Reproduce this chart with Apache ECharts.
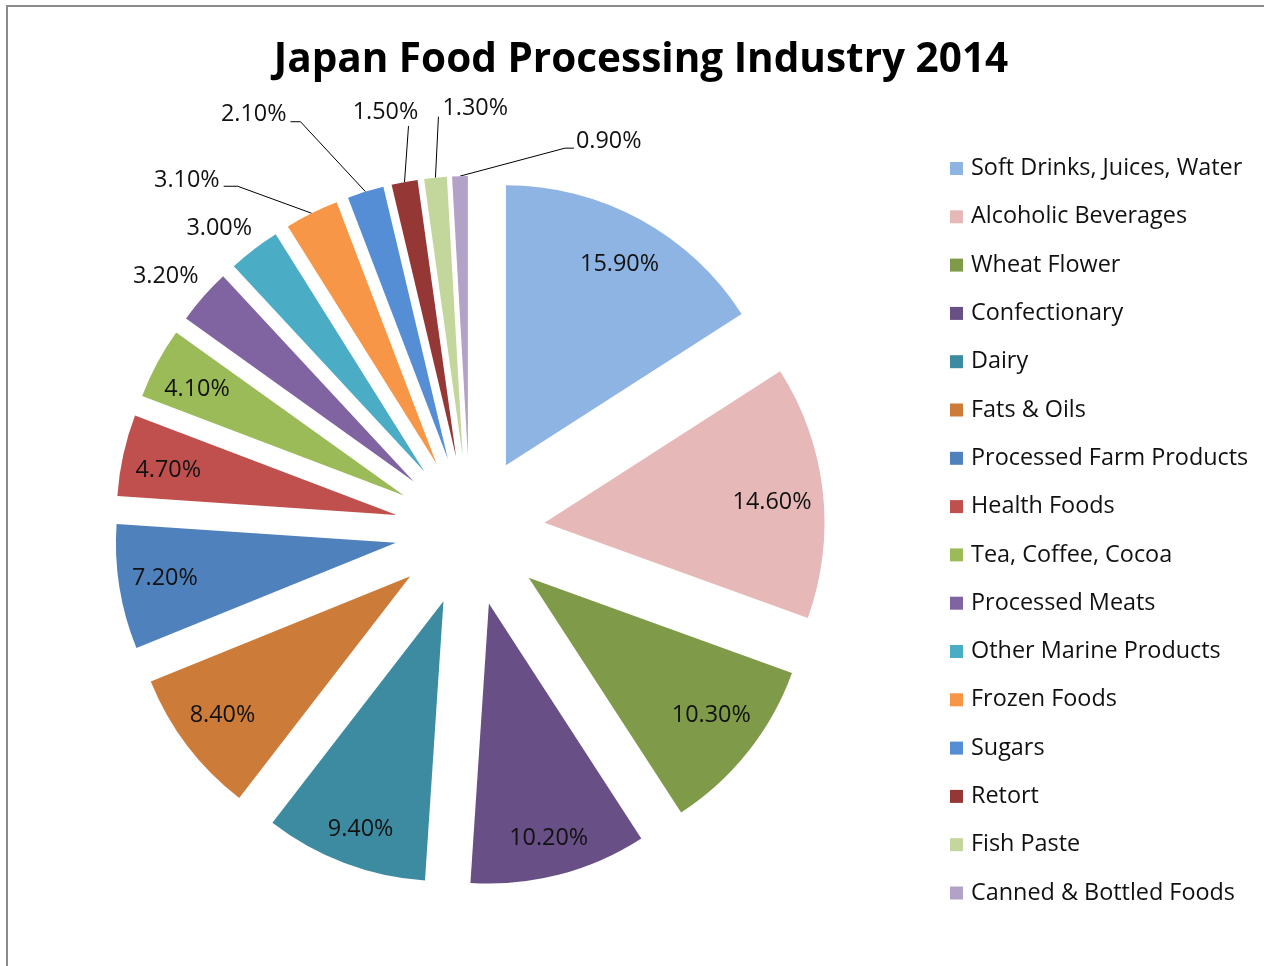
<!DOCTYPE html>
<html>
<head>
<meta charset="utf-8">
<script src="https://cdn.jsdelivr.net/npm/echarts@6/dist/echarts.min.js"></script>
<style>
html,body{margin:0;padding:0;background:#fff;}
#chart{width:1264px;height:966px;}
</style>
</head>
<body>
<div id="chart"></div>
<script>
const categories = [
  'Soft Drinks, Juices, Water', 'Alcoholic Beverages', 'Wheat Flower', 'Confectionary',
  'Dairy', 'Fats & Oils', 'Processed Farm Products', 'Health Foods',
  'Tea, Coffee, Cocoa', 'Processed Meats', 'Other Marine Products', 'Frozen Foods',
  'Sugars', 'Retort', 'Fish Paste', 'Canned & Bottled Foods'
];
const values = [15.9, 14.6, 10.3, 10.2, 9.4, 8.4, 7.2, 4.7, 4.1, 3.2, 3.0, 3.1, 2.1, 1.5, 1.3, 0.9];
const colors = [
  '#8EB4E3', '#E6B9B8', '#7F9B4A', '#684F85', '#3C8BA1', '#CD7B38', '#4F81BD', '#C0504D',
  '#9BBB59', '#8064A2', '#4BACC6', '#F79646', '#558ED5', '#953735', '#C3D69B', '#B3A2C7'
];
const titleText = 'Japan Food Processing Industry 2014';

const FONT = '"Open Sans", sans-serif';
const insideMin = 4; // values at or above are labelled inside the slice
const fmt = v => v.toFixed(2) + '%';

// Leader-line styling for outside labels, relative to the slice's outer edge point
// (pts: bend/end points of the leader; lab: label anchor; align: text alignment)
const leaders = {
  'Processed Meats':        { pts: null, lab: [-5, -20], align: 'right' },
  'Other Marine Products':  { pts: null, lab: [-2, -21], align: 'right' },
  'Frozen Foods':           { pts: [[-74, -27], [-88, -27]], lab: [-92, -33], align: 'right' },
  'Sugars':                 { pts: [[-65, -70], [-75, -70]], lab: [-79, -77], align: 'right' },
  'Retort':                 { pts: [[4, -56]], lab: [-19, -70], align: 'center' },
  'Fish Paste':             { pts: [[3, -61]], lab: [7, -69], align: 'left' },
  'Canned & Bottled Foods': { pts: [[105, -28], [114, -28]], lab: [116, -35], align: 'left' }
};
// Small nudges of the inside labels (pixels)
const insideNudge = {
  'Soft Drinks, Juices, Water': [0, 7], 'Alcoholic Beverages': [-8, 6], 'Wheat Flower': [-3, -10],
  'Confectionary': [0, 5], 'Dairy': [1, 7], 'Fats & Oils': [1, -4],
  'Processed Farm Products': [3, -2], 'Health Foods': [3, 6], 'Tea, Coffee, Cocoa': [2, 6]
};

const mainData = categories.map((name, i) => {
  const small = values[i] < insideMin;
  const ld = leaders[name];
  return {
    name, value: values[i], selected: true,
    itemStyle: { color: colors[i] },
    label: { show: small },
    labelLine: small && ld && !ld.pts ? { show: true, lineStyle: { opacity: 0 } } : { show: small }
  };
});
const labelData = categories.map((name, i) => ({
  name, value: values[i], selected: true,
  label: { show: values[i] >= insideMin }
}));

const chart = echarts.init(document.getElementById('chart'));
chart.setOption({
  animation: false,
  backgroundColor: '#fff',
  color: colors,
  title: {
    text: titleText, left: 636, top: 35, textAlign: 'center',
    textStyle: { fontFamily: FONT, fontWeight: 'bold', fontSize: 40.5, color: '#000' }
  },
  legend: {
    orient: 'vertical', left: 950, top: 157, padding: 0,
    itemWidth: 13, itemHeight: 13, itemGap: 25.3,
    icon: 'rect', selectedMode: false,
    data: categories,
    textStyle: { fontFamily: FONT, fontSize: 23.4, color: '#111', padding: [0, 0, 0, 3] }
  },
  graphic: [{
    type: 'rect', shape: { x: 7, y: 6, width: 1400, height: 1100 },
    style: { fill: 'none', stroke: '#8a8a8a', lineWidth: 2 }, silent: true
  }],
  series: [{
    type: 'pie',
    center: [470, 531], radius: [0, 280],
    startAngle: 90, clockwise: true,
    selectedMode: 'multiple', selectedOffset: 75,
    avoidLabelOverlap: false,
    itemStyle: { borderWidth: 0 },
    label: {
      position: 'outside', formatter: p => fmt(p.value),
      fontFamily: FONT, fontSize: 23.4, color: '#111', distanceToLabelLine: 5
    },
    labelLine: { length: 20, length2: 10, lineStyle: { color: '#000', width: 1 } },
    labelLayout: function (params) {
      const ld = leaders[categories[params.dataIndex]];
      const pts = params.labelLinePoints;
      if (!ld || !pts) return {};
      const a = pts[0], p1 = pts[1], p2 = pts[2];
      const side = p2[0] < p1[0] ? -1 : 1;
      const def = [p2[0] + side * 5, p2[1]];
      const target = [a[0] + ld.lab[0], a[1] + ld.lab[1]];
      const out = {
        dx: target[0] - def[0], dy: target[1] - def[1],
        align: ld.align, verticalAlign: 'middle'
      };
      let line = [[a[0], a[1]]];
      if (ld.pts) line = line.concat(ld.pts.map(p => [a[0] + p[0], a[1] + p[1]]));
      while (line.length < 3) line.push(line[line.length - 1].slice());
      out.labelLinePoints = line;
      return out;
    },
    emphasis: { disabled: true },
    data: mainData
  }, {
    type: 'pie',
    center: [470, 531], radius: [206, 262],
    startAngle: 90, clockwise: true,
    selectedMode: 'multiple', selectedOffset: 75,
    silent: true,
    itemStyle: { color: 'rgba(0,0,0,0)', borderWidth: 0 },
    label: {
      position: 'inside', formatter: p => fmt(p.value),
      fontFamily: FONT, fontSize: 23.4, color: '#111'
    },
    labelLayout: function (params) {
      const n = insideNudge[categories[params.dataIndex]] || [0, 0];
      return { dx: n[0], dy: n[1] };
    },
    labelLine: { show: false },
    emphasis: { disabled: true },
    data: labelData
  }]
});
</script>
</body>
</html>
